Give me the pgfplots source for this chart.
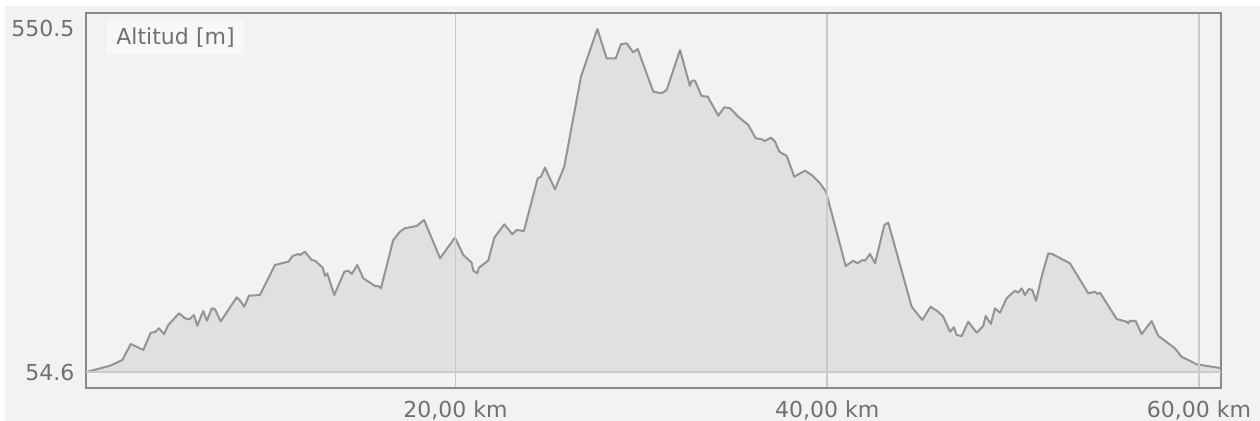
\documentclass[border=0pt]{standalone}
\usepackage{fontspec}
\setmainfont{DejaVu Sans}
\usepackage{pgfplots}
\usepackage{pgfplotstable}
\pgfplotsset{compat=1.18}

\definecolor{bg}{HTML}{F2F2F2}
\definecolor{framegray}{HTML}{8A8A8A}
\definecolor{gridgray}{HTML}{CACACA}
\definecolor{linegray}{HTML}{949494}
\definecolor{fillgray}{HTML}{E0E0E0}
\definecolor{labelgray}{HTML}{707070}
\definecolor{boxgray}{HTML}{F8F8F8}

% elevation profile: distance [km], altitude [m]
% (first and last rows sit on the 54.6 m base line so the area closes there)
\pgfplotstableread{
km alt
0.15 54.6
0.20 55.0
1.42 63.7
2.08 72.0
2.53 95.1
3.21 86.4
3.60 111.4
3.84 112.4
4.05 117.8
4.32 109.5
4.55 122.6
5.13 139.5
5.45 132.2
5.68 130.8
5.93 137.0
6.11 121.5
6.43 142.8
6.63 128.8
6.89 146.7
7.06 145.3
7.37 127.9
8.23 162.6
8.41 157.7
8.64 149.0
8.89 164.9
9.48 165.9
10.29 209.3
11.01 214.1
11.24 222.3
11.54 225.2
11.64 223.8
11.90 228.5
12.26 216.5
12.44 215.5
12.86 205.4
12.98 193.4
13.10 197.3
13.48 165.9
14.02 199.6
14.23 201.1
14.42 196.3
14.72 209.3
15.04 190.1
15.67 178.9
15.85 178.9
15.99 175.6
16.65 245.4
17.01 257.4
17.28 262.4
17.55 263.8
17.91 265.7
18.31 274.4
19.17 219.0
19.97 248.8
20.42 223.8
20.87 212.6
20.96 201.1
21.17 197.3
21.26 205.4
21.76 215.5
22.09 248.8
22.63 268.1
23.06 253.7
23.29 259.9
23.68 258.5
24.42 334.6
24.60 337.0
24.81 350.0
25.35 318.7
25.85 351.4
26.75 481.5
27.63 550.5
28.13 508.1
28.62 508.1
28.90 528.4
29.21 529.8
29.56 516.8
29.80 521.6
30.64 459.9
31.09 457.5
31.36 462.3
32.08 520.1
32.61 468.1
32.71 475.8
32.88 475.8
33.24 453.6
33.57 452.6
34.14 425.2
34.46 437.3
34.77 435.9
35.21 423.7
35.75 411.7
36.15 392.5
36.47 391.0
36.65 388.6
36.97 393.4
37.19 387.6
37.42 373.1
37.82 366.9
38.22 337.0
38.80 345.6
39.16 339.4
39.61 327.4
39.93 315.3
40.99 207.9
41.40 215.5
41.63 211.8
41.88 216.5
42.03 215.5
42.30 225.2
42.57 211.8
43.07 267.1
43.28 270.5
44.54 149.0
45.11 129.8
45.56 149.0
45.97 141.8
46.24 134.6
46.60 112.9
46.81 119.2
46.96 108.1
47.23 106.6
47.58 127.3
48.04 111.4
48.39 121.1
48.52 135.6
48.80 124.0
49.02 146.7
49.29 140.3
49.65 161.2
50.10 172.1
50.27 169.3
50.46 175.6
50.63 165.9
50.85 174.6
51.03 173.2
51.23 157.3
51.53 192.4
51.89 226.2
52.10 225.2
53.05 211.8
54.04 168.4
54.40 170.7
54.54 167.4
54.67 169.3
55.57 131.2
56.10 127.3
56.19 125.0
56.28 128.8
56.59 128.3
56.91 109.5
57.45 128.3
57.80 107.1
58.70 88.9
59.06 76.7
59.87 65.7
61.03 60.8
61.18 60.4
61.18 54.6
}\profile

\begin{document}
\begin{tikzpicture}
% page background (axis box sits at the origin, 567.25pt x 187.5pt)
\fill[white] (-43.25pt,-16.5pt) rectangle (586.75pt,194pt);
\fill[bg] (-40.75pt,-16.5pt) rectangle (586.75pt,191pt);
\begin{axis}[
  at={(0,0)}, anchor=south west,
  scale only axis,
  width=567.25pt, height=187.5pt,
  xmin=0.15, xmax=61.18,
  ymin=31.5, ymax=573.6,
  axis line style={draw=framegray, line width=1pt},
  xtick={20,40,60},
  xticklabels={{20,00 km},{40,00 km},{60,00 km}},
  ytick={550.5},
  yticklabels={550.5},
  extra y ticks={54.6},
  extra y tick labels={54.6},
  extra y tick style={grid=major},
  major tick length=0pt,
  xmajorgrids,
  grid style={draw=gridgray, line width=0.8pt},
  tick label style={font=\fontsize{11pt}{13pt}\selectfont, text=labelgray},
  xticklabel style={yshift=-3pt},
  yticklabel style={xshift=-2.5pt},
  axis on top,
]
\addplot[fill=fillgray, draw=none] table[x=km, y=alt] {\profile} -- cycle;
\addplot[draw=linegray, line width=1pt, line join=round]
  table[x=km, y=alt] {\profile};

\draw[framegray, line width=1pt] (rel axis cs:-0.0577,0) -- (rel axis cs:0,0);
\node[anchor=north west, fill=boxgray, inner xsep=4.5pt, inner ysep=0pt,
      minimum height=16.5pt, text width=59.5pt, align=left,
      font=\fontsize{11pt}{13pt}\selectfont, text=labelgray]
  at (rel axis cs:0.01807,0.97867) {Altitud [m]};
\end{axis}
\pgfresetboundingbox
\path (-43.25pt,-16.5pt) rectangle (586.75pt,194pt);
\end{tikzpicture}
\end{document}
